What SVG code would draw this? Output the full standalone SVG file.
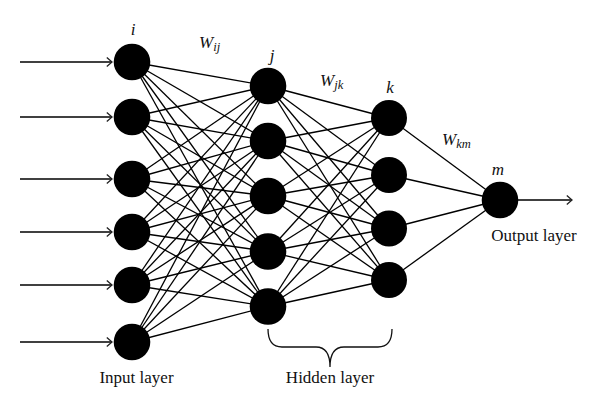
<svg xmlns="http://www.w3.org/2000/svg" width="600" height="411" viewBox="0 0 600 411">
<style>
.n{fill:#000}
.c line{stroke:#000;stroke-width:1.3}
.arr{stroke:#222;stroke-width:1.4;fill:none}
.lbl{font-family:"Liberation Serif","Times New Roman",serif;font-size:17px;fill:#111}
.it{font-family:"Liberation Serif","Times New Roman",serif;font-style:italic;fill:#111}
</style>
<defs>
<marker id="ah" markerUnits="userSpaceOnUse" markerWidth="8" markerHeight="12" refX="6" refY="6" orient="auto" viewBox="0 0 8 12">
<path d="M0.8,1.5 L6,6 L0.8,10.5" fill="none" stroke="#222" stroke-width="1.3"/>
</marker>
</defs>
<rect width="600" height="411" fill="#fff"/>
<g id="connectors" class="c">
<!-- input to hidden j -->
<line x1="132" y1="62" x2="268" y2="86"/><line x1="132" y1="62" x2="268" y2="141"/><line x1="132" y1="62" x2="268" y2="196"/><line x1="132" y1="62" x2="268" y2="251.5"/><line x1="132" y1="62" x2="268" y2="306.5"/>
<line x1="132" y1="117" x2="268" y2="86"/><line x1="132" y1="117" x2="268" y2="141"/><line x1="132" y1="117" x2="268" y2="196"/><line x1="132" y1="117" x2="268" y2="251.5"/><line x1="132" y1="117" x2="268" y2="306.5"/>
<line x1="132" y1="179" x2="268" y2="86"/><line x1="132" y1="179" x2="268" y2="141"/><line x1="132" y1="179" x2="268" y2="196"/><line x1="132" y1="179" x2="268" y2="251.5"/><line x1="132" y1="179" x2="268" y2="306.5"/>
<line x1="132" y1="232" x2="268" y2="86"/><line x1="132" y1="232" x2="268" y2="141"/><line x1="132" y1="232" x2="268" y2="196"/><line x1="132" y1="232" x2="268" y2="251.5"/><line x1="132" y1="232" x2="268" y2="306.5"/>
<line x1="132" y1="285" x2="268" y2="86"/><line x1="132" y1="285" x2="268" y2="141"/><line x1="132" y1="285" x2="268" y2="196"/><line x1="132" y1="285" x2="268" y2="251.5"/><line x1="132" y1="285" x2="268" y2="306.5"/>
<line x1="132" y1="342" x2="268" y2="86"/><line x1="132" y1="342" x2="268" y2="141"/><line x1="132" y1="342" x2="268" y2="196"/><line x1="132" y1="342" x2="268" y2="251.5"/><line x1="132" y1="342" x2="268" y2="306.5"/>
<!-- hidden j to hidden k -->
<line x1="268" y1="86" x2="389" y2="118"/><line x1="268" y1="86" x2="389" y2="175"/><line x1="268" y1="86" x2="389" y2="228.5"/><line x1="268" y1="86" x2="389" y2="280"/>
<line x1="268" y1="141" x2="389" y2="118"/><line x1="268" y1="141" x2="389" y2="175"/><line x1="268" y1="141" x2="389" y2="228.5"/><line x1="268" y1="141" x2="389" y2="280"/>
<line x1="268" y1="196" x2="389" y2="118"/><line x1="268" y1="196" x2="389" y2="175"/><line x1="268" y1="196" x2="389" y2="228.5"/><line x1="268" y1="196" x2="389" y2="280"/>
<line x1="268" y1="251.5" x2="389" y2="118"/><line x1="268" y1="251.5" x2="389" y2="175"/><line x1="268" y1="251.5" x2="389" y2="228.5"/><line x1="268" y1="251.5" x2="389" y2="280"/>
<line x1="268" y1="306.5" x2="389" y2="118"/><line x1="268" y1="306.5" x2="389" y2="175"/><line x1="268" y1="306.5" x2="389" y2="228.5"/><line x1="268" y1="306.5" x2="389" y2="280"/>
<!-- hidden k to output -->
<line x1="389" y1="118" x2="500" y2="200"/><line x1="389" y1="175" x2="500" y2="200"/><line x1="389" y1="228.5" x2="500" y2="200"/><line x1="389" y1="280" x2="500" y2="200"/>
<!-- input arrows -->
<line class="arr" x1="20" y1="62" x2="112" y2="62" marker-end="url(#ah)"/>
<line class="arr" x1="20" y1="117" x2="112" y2="117" marker-end="url(#ah)"/>
<line class="arr" x1="20" y1="179" x2="112" y2="179" marker-end="url(#ah)"/>
<line class="arr" x1="20" y1="232" x2="112" y2="232" marker-end="url(#ah)"/>
<line class="arr" x1="20" y1="285" x2="112" y2="285" marker-end="url(#ah)"/>
<line class="arr" x1="20" y1="342" x2="112" y2="342" marker-end="url(#ah)"/>
<!-- output arrow -->
<line class="arr" x1="518" y1="200" x2="572" y2="200" marker-end="url(#ah)"/>
</g>
<g id="input-layer">
<circle id="i1" class="n" cx="132" cy="62" r="18.3"/>
<circle id="i2" class="n" cx="132" cy="117" r="18.3"/>
<circle id="i3" class="n" cx="132" cy="179" r="18.3"/>
<circle id="i4" class="n" cx="132" cy="232" r="18.3"/>
<circle id="i5" class="n" cx="132" cy="285" r="18.3"/>
<circle id="i6" class="n" cx="132" cy="342" r="18.3"/>
<text class="it" x="133" y="35" font-size="17" text-anchor="middle">i</text>
<text class="lbl" x="136.5" y="383" text-anchor="middle">Input layer</text>
</g>
<g id="hidden-j">
<circle id="j1" class="n" cx="268" cy="86" r="18.3"/>
<circle id="j2" class="n" cx="268" cy="141" r="18.3"/>
<circle id="j3" class="n" cx="268" cy="196" r="18.3"/>
<circle id="j4" class="n" cx="268" cy="251.5" r="18.3"/>
<circle id="j5" class="n" cx="268" cy="306.5" r="18.3"/>
<text class="it" x="272" y="61" font-size="17" text-anchor="middle">j</text>
</g>
<g id="hidden-k">
<circle id="k1" class="n" cx="389" cy="118" r="18"/>
<circle id="k2" class="n" cx="389" cy="175" r="18"/>
<circle id="k3" class="n" cx="389" cy="228.5" r="18"/>
<circle id="k4" class="n" cx="389" cy="280" r="18"/>
<text class="it" x="390" y="93" font-size="17" text-anchor="middle">k</text>
</g>
<g id="output-layer">
<circle id="m1" class="n" cx="500" cy="200" r="18.3"/>
<text class="it" x="498" y="175" font-size="17" text-anchor="middle">m</text>
<text class="lbl" x="534" y="241" text-anchor="middle">Output layer</text>
</g>
<g id="weights">
<text class="it" x="199" y="48" font-size="17">W<tspan font-size="12.5" dy="3">ij</tspan></text>
<text class="it" x="320" y="86" font-size="17">W<tspan font-size="12.5" dy="3">jk</tspan></text>
<text class="it" x="442" y="145" font-size="17">W<tspan font-size="12.5" dy="3">km</tspan></text>
</g>
<g id="hidden-brace">
<path d="M268,329 Q268,347 282,347 L316,347 Q330,347 330,367 Q330,347 344,347 L378,347 Q392,347 392,329" fill="none" stroke="#111" stroke-width="1.3"/>
<text class="lbl" x="330" y="383" text-anchor="middle">Hidden layer</text>
</g>
</svg>
